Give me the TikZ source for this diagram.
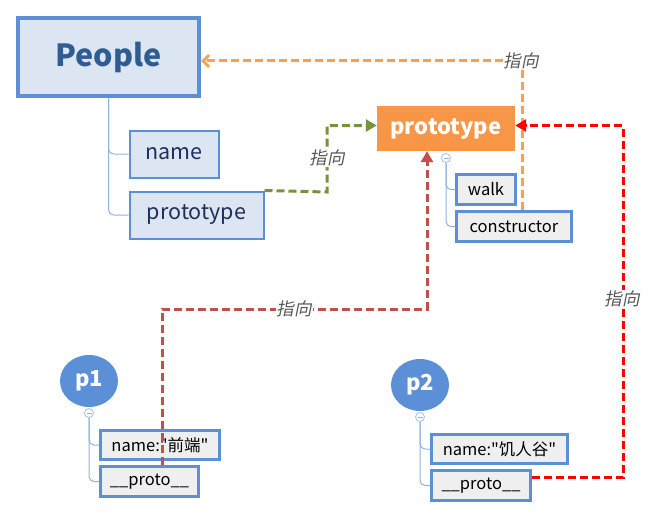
\documentclass[tikz,border=0pt]{standalone}
\usepackage{fontspec}
\setmainfont{Noto Sans CJK SC}[Ligatures=TeXOff]
\newfontfamily\zhit[FakeSlant=0.2]{Noto Sans CJK SC}
\usetikzlibrary{arrows.meta,calc,shapes.geometric}
\definecolor{bblue}{HTML}{5B8FD6}
\definecolor{lfill}{HTML}{DCE6F2}
\definecolor{gfill}{HTML}{EFEFEF}
\definecolor{navy}{HTML}{1F2E5A}
\definecolor{ptext}{HTML}{2F5D91}
\definecolor{orng}{HTML}{F79646}
\definecolor{orline}{HTML}{FF9F4F}
\definecolor{olive}{HTML}{77933C}
\definecolor{dred}{HTML}{C0504D}
\definecolor{tline}{HTML}{8DB3E2}
\definecolor{lbl}{HTML}{595959}
\tikzset{
  lbox/.style={draw=bblue, line width=2pt, fill=lfill, text=navy, font=\fontsize{21.5}{25}\selectfont, inner sep=0pt},
  gbox/.style={draw=bblue, line width=3pt, fill=gfill, text=black, inner sep=0pt, font=\fontsize{16.5}{19}\selectfont},
  circ/.style={ellipse, fill=bblue, text=white, font=\bfseries\fontsize{22}{26}\selectfont, minimum width=58pt, minimum height=52pt, inner sep=0pt},
  tog/.style={circle, draw=tline!80, fill=white, line width=0.8pt, minimum size=9pt, inner sep=0pt,
    path picture={\draw[tline, line width=0.8pt] ([xshift=-2.5pt]path picture bounding box.center) -- ([xshift=2.5pt]path picture bounding box.center);}},
  tree/.style={draw=tline, line width=1pt, rounded corners=5pt},
  conn/.style={line width=3pt, dash pattern=on 8pt off 4pt},
  zlbl/.style={font=\zhit\fontsize{17.5}{20}\selectfont, text=lbl, fill=white, inner sep=1pt}
}
\begin{document}
\begin{tikzpicture}[x=1pt,y=-1pt]
\useasboundingbox (0,0) rectangle (656,519);
% nodes
\node[draw=bblue, line width=4pt, fill=lfill, text=ptext, font=\bfseries\fontsize{30.5}{36}\selectfont,
  minimum width=181pt, minimum height=77pt, inner sep=0pt] (People) at (108.5,57) {People};
\node[lbox, minimum width=89pt, minimum height=47pt] (name) at (174,154) {name};
\node[lbox, minimum width=134pt, minimum height=47pt] (protoL) at (196.5,215) {prototype};
\node[fill=orng, text=white, font=\bfseries\fontsize{22}{26}\selectfont, minimum width=138pt, minimum height=45pt, inner sep=0pt] (orange) at (446,128.5) {prototype};
\node[gbox, minimum width=59pt, minimum height=30pt] (walk) at (486,189.5) {walk};
\node[gbox, minimum width=115pt, minimum height=30pt] (constructor) at (514,226.5) {constructor};
\node[tog] (t0) at (446,158) {};
\node[circ] (p1) at (89,381) {p1};
\node[tog] (t1) at (89,413) {};
\node[gbox, minimum width=119pt, minimum height=29pt] (p1name) at (160,445) {name:"前端"};
\node[gbox, minimum width=98pt, minimum height=30pt] (p1proto) at (149.5,481.5) {\_\_proto\_\_};
\node[circ] (p2) at (420,385) {p2};
\node[tog] (t2) at (420,417) {};
\node[gbox, minimum width=136pt, minimum height=29pt] (p2name) at (499.5,449) {name:"饥人谷"};
\node[gbox, minimum width=99pt, minimum height=30pt] (p2proto) at (481,485.5) {\_\_proto\_\_};
% tree lines
\draw[tree] (People.south) |- (name.west);
\draw[tree] (People.south) |- (protoL.west);
\draw[tree] (t0.south) |- (walk.west);
\draw[tree] (t0.south) |- (constructor.west);
\draw[tree] (t1.south) |- (p1name.west);
\draw[tree] (t1.south) |- (p1proto.west);
\draw[tree] (t2.south) |- (p2name.west);
\draw[tree] (t2.south) |- (p2proto.west);
% connectors
\coordinate (g1) at (327,192);
\draw[conn, olive, -{Triangle[length=11pt,width=12pt]}] (protoL.north east) -- (g1) |- ([yshift=3pt]orange.west);
\node[zlbl] (lg) at (327,158) {指向};
\coordinate (oc) at ([xshift=8pt]constructor.north);
\draw[conn, orline, -{Straight Barb[length=6pt,width=12pt]}] (oc) |- ([yshift=-4pt]People.east);
\node[zlbl] (lo) at (521,61) {指向};
\coordinate (r0) at ([yshift=8pt]p2proto.east);
\coordinate (r1) at (623,300);
\draw[conn, red, -{Triangle[length=11pt,width=12pt]}] (r0) -| (r1) |- ([yshift=3pt]orange.east);
\node[zlbl] (lr) at (622,299) {指向};
\coordinate (d0) at ([xshift=12.5pt]p1proto.north);
\coordinate (dm) at (294,309);
\draw[conn, dred, -{Triangle[length=11pt,width=12pt]}] (d0) |- (dm) -| ([xshift=-19pt]orange.south);
\node[zlbl] (ld) at (294,309) {指向};
\end{tikzpicture}
\end{document}
